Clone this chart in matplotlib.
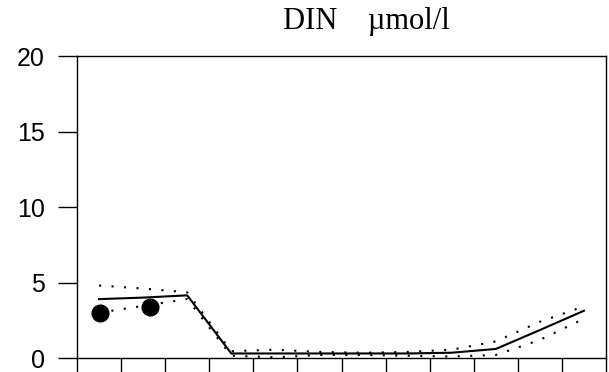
import matplotlib
matplotlib.use("Agg")
from matplotlib import pyplot as plt

# Monthly mid-points (month index 0..12 on the x axis)
months = [0.5, 1.5, 2.5, 3.5, 4.5, 5.5, 6.5, 7.5, 8.5, 9.5, 10.5, 11.5]
din_mean = [3.9, 4.0, 4.15, 0.3, 0.3, 0.3, 0.3, 0.3, 0.35, 0.6, 1.85, 3.13]
din_upper = [4.8, 4.6, 4.35, 0.45, 0.55, 0.4, 0.35, 0.4, 0.55, 1.1, 2.4, 3.42]
din_lower = [3.0, 3.45, 3.9, 0.15, 0.05, 0.2, 0.2, 0.15, 0.1, 0.2, 1.2, 2.6]

# Observations
obs_x = [0.52, 1.65]
obs_y = [3.0, 3.36]

fig = plt.figure(figsize=(6.09, 3.72), dpi=100)
ax = fig.add_axes([77 / 609, 1 - 358 / 372, 529 / 609, 302 / 372])

ax.plot(months, din_mean, color="black", linewidth=1.5)
ax.plot(months, din_upper, color="black", linewidth=1.5, linestyle=(0, (1, 5)))
ax.plot(months, din_lower, color="black", linewidth=1.5, linestyle=(0, (1, 5)))
ax.plot(obs_x, obs_y, "o", color="black", markersize=12)

ax.set_xlim(0, 12)
ax.set_ylim(0, 20)
ax.set_xticks(range(13))
ax.set_xticklabels([])
ax.set_yticks([0, 5, 10, 15, 20])
ax.tick_params(axis="y", direction="out", length=14, width=1, labelsize=18, pad=9)
ax.tick_params(axis="x", direction="out", length=14, width=1)
for lbl in ax.get_yticklabels():
    lbl.set_family("Liberation Sans")
for s in ax.spines.values():
    s.set_linewidth(1)
    s.set_clip_on(False)

fig.text(366 / 609, 1 - 21 / 372, "DIN    \u00b5mol/l", ha="center", va="center",
         fontsize=22, family="Liberation Serif")

plt.savefig("out.png", dpi=100)
